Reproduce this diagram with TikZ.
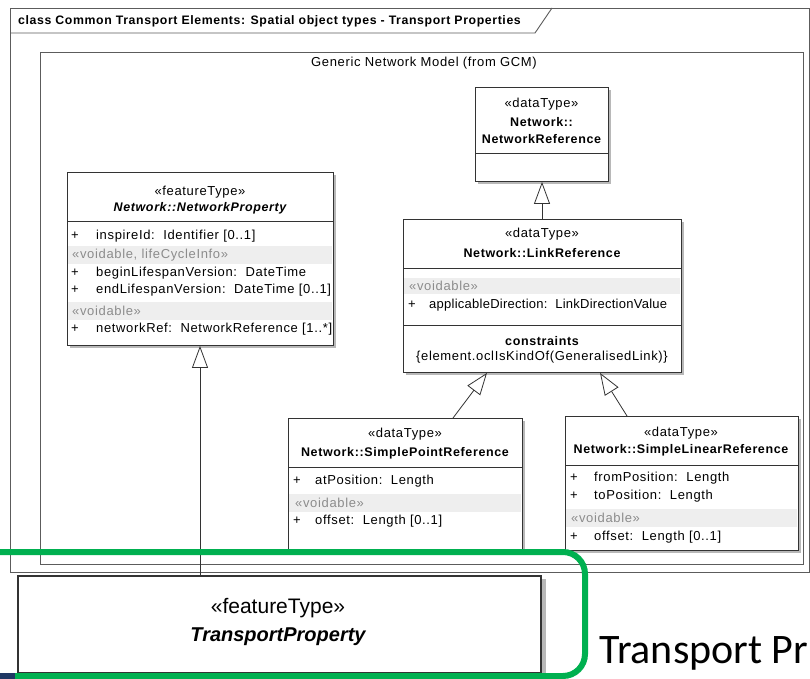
\documentclass[tikz,border=0pt]{standalone}
\usepackage{fontspec}
\setmainfont{Liberation Sans}
\newfontfamily\umlf[LetterSpace=5]{Liberation Sans}
\newfontfamily\umlt[LetterSpace=2]{Liberation Sans}
\newfontfamily\calibri{Carlito}
\usetikzlibrary{arrows.meta,calc,shadows}
\definecolor{bandgray}{HTML}{EEEEEE}
\definecolor{shade}{HTML}{B8B8B8}
\definecolor{ogreen}{HTML}{00B050}
\definecolor{navyc}{HTML}{1F3864}
\definecolor{stereo}{HTML}{8C8C8C}
\definecolor{edge}{HTML}{333333}
\newcommand\umlsz{\fontsize{13}{15}\selectfont}
\begin{document}
\begin{tikzpicture}[x=1pt,y=-1pt,
  umlbox/.style={draw=edge, line width=0.9pt, fill=white, rectangle, inner sep=0pt, anchor=north west,
     drop shadow={shadow xshift=3pt, shadow yshift=-3pt, fill=shade, opacity=1}},
  txt/.style={inner sep=0pt, font=\umlf\umlsz},
  attr/.style={txt, anchor=west},
  ctr/.style={txt, anchor=center},
  stv/.style={txt, anchor=west, text=stereo},
  boldc/.style={txt, anchor=center, font=\umlf\fontsize{12.5}{14}\selectfont\bfseries},
  sepl/.style={draw=edge, line width=0.9pt},
  gen/.style={draw=edge, line width=0.8pt, -{Triangle[length=22pt, width=16pt, fill=white]}},
  frame/.style={draw=edge!80, line width=0.9pt}
]
\useasboundingbox (0,0) rectangle (810,679);
\fill[white] (0,0) rectangle (810,679);

% outer frame with title tab
\draw[frame] (10,8) rectangle (809,572);
\draw[frame] (10,33) -- (535,33) -- (552,8);
\node[anchor=west, inner sep=0pt, font=\umlf\bfseries\fontsize{12.3}{14}\selectfont] (title) at (18,21) {class Common Transport Elements: Spatial object types - Transport Properties};

% inner package frame
\draw[frame] (40,52) rectangle (803,564);
\node[inner sep=0pt, font=\umlf\fontsize{13}{15}\selectfont] (gcm) at (424,63) {Generic Network Model (from GCM)};

% NetworkReference
\node[umlbox, minimum width=133pt, minimum height=94pt] (nr) at (475,87) {};
\draw[sepl] (475,153) -- (608,153);
\node[ctr] (nr-st) at (541.5,104) {«dataType»};
\node[boldc] (nr-n1) at (541.5,122) {Network::};
\node[boldc] (nr-n2) at (541.5,139) {NetworkReference};

% NetworkProperty
\node[umlbox, minimum width=266pt, minimum height=173pt] (np) at (67,172) {};
\draw[sepl] (67,221) -- (333,221);
\fill[bandgray] (68,246) rectangle (332,264);
\fill[bandgray] (68,302) rectangle (332,320);
\node[ctr] (np-st) at (200,192) {«featureType»};
\node[txt, font=\umlf\fontsize{12.5}{14}\selectfont\bfseries\itshape] (np-n) at (200,208) {Network::NetworkProperty};
\node[attr] (np-p1) at (71,236) {+};
\node[attr] (np-a1) at (96,236) {inspireId:\ \ Identifier [0..1]};
\node[stv] (np-s1) at (72,255) {«voidable, lifeCycleInfo»};
\node[attr] (np-p2) at (71,273) {+};
\node[attr] (np-a2) at (96,273) {beginLifespanVersion:\ \ DateTime};
\node[attr] (np-p3) at (71,290) {+};
\node[attr] (np-a3) at (96,290) {endLifespanVersion:\ \ DateTime [0..1]};
\node[stv] (np-s2) at (72,311) {«voidable»};
\node[attr] (np-p4) at (71,329) {+};
\node[attr] (np-a4) at (96,329) {networkRef:\ \ NetworkReference [1..*]};

% LinkReference
\node[umlbox, minimum width=278pt, minimum height=153pt] (lr) at (403,219) {};
\draw[sepl] (403,268) -- (681,268);
\fill[bandgray] (404,278) rectangle (680,294);
\draw[sepl] (403,325) -- (681,325);
\node[ctr] (lr-st) at (542,234) {«dataType»};
\node[boldc] (lr-n) at (542,253) {Network::LinkReference};
\node[stv] (lr-s1) at (409,286) {«voidable»};
\node[attr] (lr-p1) at (408,305) {+};
\node[attr, font=\umlt\umlsz] (lr-a1) at (429,305) {applicableDirection:\ \ LinkDirectionValue};
\node[boldc] (lr-c) at (542,341) {constraints};
\node[ctr] (lr-c1) at (542,357) {\{element.oclIsKindOf(GeneralisedLink)\}};

% SimplePointReference
\node[umlbox, minimum width=234pt, minimum height=134pt] (spr) at (288,418) {};
\draw[sepl] (288,467) -- (522,467);
\fill[bandgray] (289,494) rectangle (521,512);
\node[ctr] (spr-st) at (405,434) {«dataType»};
\node[boldc] (spr-n) at (405,453) {Network::SimplePointReference};
\node[attr] (spr-p1) at (293,481) {+};
\node[attr] (spr-a1) at (315,481) {atPosition:\ \ Length};
\node[stv] (spr-s1) at (295,503) {«voidable»};
\node[attr] (spr-p2) at (293,521) {+};
\node[attr] (spr-a2) at (315,521) {offset:\ \ Length [0..1]};

% SimpleLinearReference
\node[umlbox, minimum width=233pt, minimum height=134pt] (slr) at (565,416) {};
\draw[sepl] (565,465) -- (798,465);
\fill[bandgray] (566,509) rectangle (797,527);
\node[ctr] (slr-st) at (681,433) {«dataType»};
\node[boldc] (slr-n) at (681,450) {Network::SimpleLinearReference};
\node[attr] (slr-p1) at (570,478) {+};
\node[attr] (slr-a1) at (594,478) {fromPosition:\ \ Length};
\node[attr] (slr-p2) at (570,496) {+};
\node[attr] (slr-a2) at (594,496) {toPosition:\ \ Length};
\node[stv] (slr-s1) at (571,518) {«voidable»};
\node[attr] (slr-p3) at (570,537) {+};
\node[attr] (slr-a3) at (594,537) {offset:\ \ Length [0..1]};

% TransportProperty
\node[umlbox, line width=1.8pt, minimum width=523pt, minimum height=97pt,
  drop shadow={shadow xshift=5pt, shadow yshift=-3pt, fill=shade, opacity=1}] (tp) at (17,575) {};
\node[inner sep=0pt, font=\fontsize{21}{24}\selectfont] (tp-st) at (278,608) {«featureType»};
\node[inner sep=0pt, font=\fontsize{20}{24}\selectfont\bfseries\itshape] (tp-n) at (278,637) {TransportProperty};

% generalisations
\draw[gen] ([xshift=183pt]tp.north west) -- ([xshift=133pt]np.south west);
\draw[gen] ([xshift=139pt]lr.north west) -- ([xshift=67pt]nr.south west);
\draw[gen] ([xshift=165pt]spr.north west) -- ([xshift=84pt]lr.south west);
\draw[gen] ([xshift=62pt]slr.north west) -- ([xshift=197pt]lr.south west);

% highlight
\draw[ogreen, line width=6pt, rounded corners=22pt] (-40,552) rectangle (585,676);
\node[anchor=base west, inner sep=0pt, font=\calibri\fontsize{42}{44}\selectfont] (tpr) at (599,663) {Transport Pr};
\fill[navyc] (0,673) rectangle (15,679);
\end{tikzpicture}
\end{document}
